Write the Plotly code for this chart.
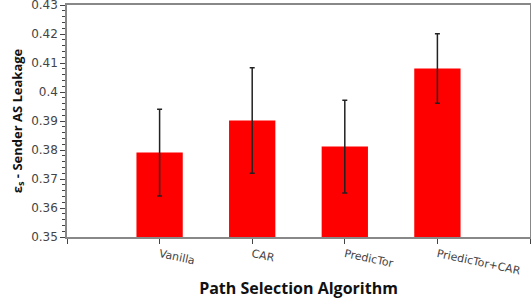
import plotly.graph_objects as go

categories = ["Vanilla", "CAR", "PredicTor", "PriedicTor+CAR"]
leakage = [0.3791, 0.3902, 0.3812, 0.4081]
errors = [0.0150, 0.0182, 0.0160, 0.0120]
ytick_values = [0.35, 0.36, 0.37, 0.38, 0.39, 0.40, 0.41, 0.42, 0.43]
ytick_labels = ["0.35", "0.36", "0.37", "0.38", "0.39", "0.4", "0.41", "0.42", "0.43"]

xpos = list(range(len(categories)))

fig = go.Figure()
fig.add_trace(go.Bar(
    x=xpos, y=leakage, width=0.5,
    marker=dict(color="#ff0000", line=dict(width=0)),
    error_y=dict(type="data", array=errors, visible=True,
                  color="#222222", thickness=1.5, width=2.5),
))

fig.update_layout(
    width=531, height=302,
    margin=dict(l=67, r=1, t=5, b=65, autoexpand=False),
    plot_bgcolor="white", paper_bgcolor="white",
    showlegend=False,
    font=dict(family="DejaVu Sans", color="#444444"),
    xaxis=dict(
        range=[-1, len(categories)],
        tickvals=[-1] + xpos + [len(categories)],
        ticktext=[""] + categories + [""],
        tickangle=12,
        ticks="outside", ticklen=5, tickcolor="#444444",
        tickfont=dict(size=11, family="DejaVu Sans", color="#444444"),
        showline=True, linecolor="#888888", linewidth=1.5, mirror=True,
        showgrid=False, zeroline=False, automargin=False,
        ticklabeloverflow="allow",
        title=dict(text="<b>Path Selection Algorithm</b>",
                   font=dict(size=16, family="Open Sans", color="#111111"),
                   standoff=6),
    ),
    yaxis=dict(
        range=[0.35, 0.43001],
        tickvals=ytick_values, ticktext=ytick_labels,
        ticks="outside", ticklen=5, tickcolor="#444444",
        minor=dict(ticks="outside", ticklen=3, dtick=0.002, tick0=0.35, tickcolor="#444444"),
        tickfont=dict(size=12, family="DejaVu Sans", color="#444444"),
        showline=True, linecolor="#888888", linewidth=1.5, mirror=True,
        showgrid=False, zeroline=False, automargin=False,
        ticklabeloverflow="allow",
        title=dict(text="<b>ε<sub>s</sub> - Sender AS Leakage</b>",
                   font=dict(size=13, family="Open Sans", color="#111111"),
                   standoff=6),
    ),
)

fig.write_html("out.html", config={"displayModeBar": False},
               post_script="document.body.style.margin='0';")
